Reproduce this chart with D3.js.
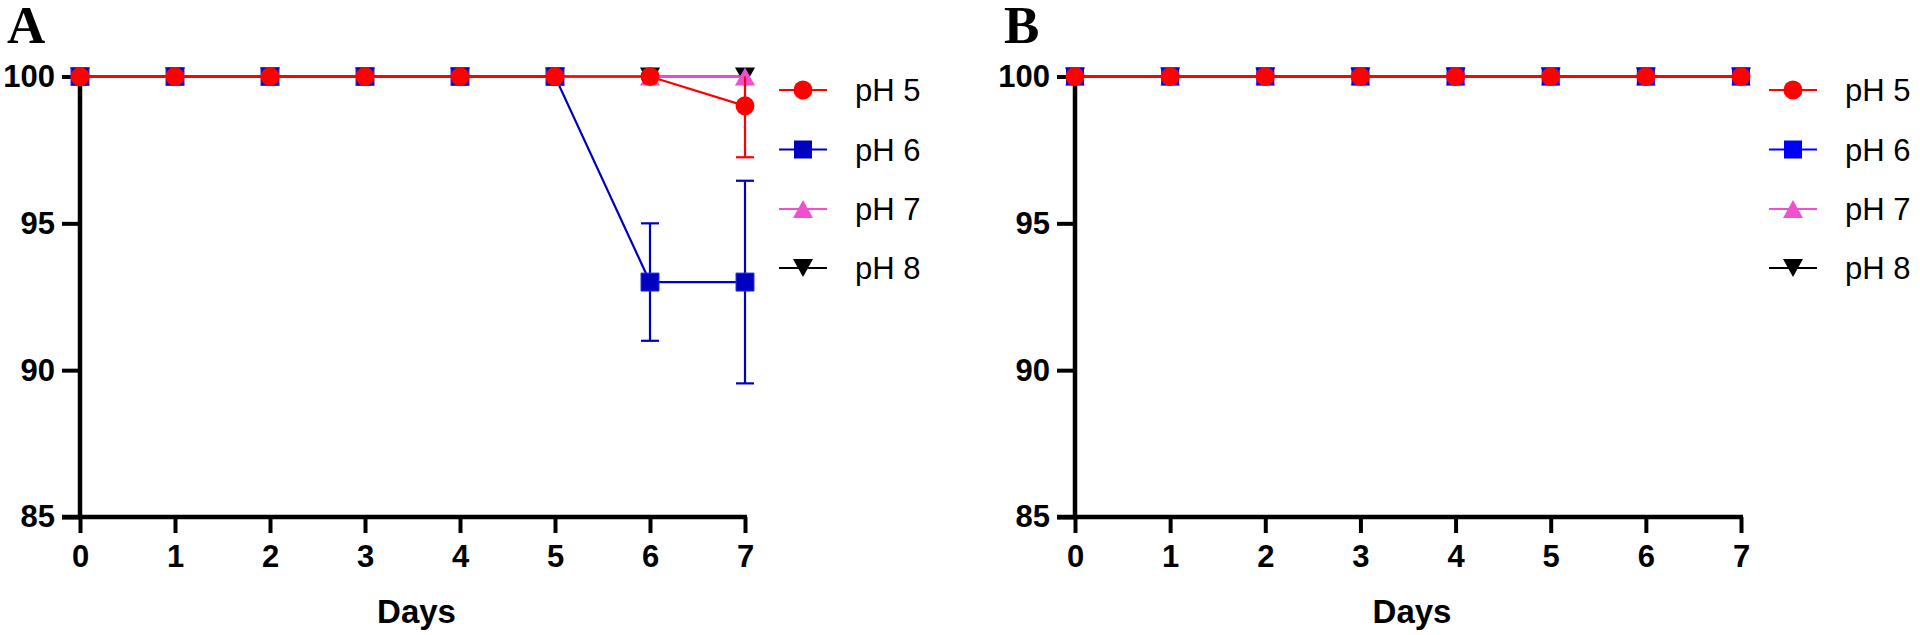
<!DOCTYPE html>
<html>
<head>
<meta charset="utf-8">
<script src="https://cdn.jsdelivr.net/npm/d3@7"></script>
<style>
  html, body { margin: 0; padding: 0; background: #fff; }
  svg { display: block; }
  text { font-family: "Liberation Sans", Arial, sans-serif; }
</style>
</head>
<body>
<svg id="chart" width="1920" height="635"></svg>
<script>
// ---- data ----
const days = [0, 1, 2, 3, 4, 5, 6, 7];
const seriesNames = ["pH 5", "pH 6", "pH 7", "pH 8"];
const yTicks = [85, 90, 95, 100];

// Panel A
const A_pH5 = [100, 100, 100, 100, 100, 100, 100, 99];
const A_pH5_err = [0, 0, 0, 0, 0, 0, 0, 1.75];
const A_pH6 = [100, 100, 100, 100, 100, 100, 93, 93];
const A_pH6_err = [0, 0, 0, 0, 0, 0, 2, 3.45];
const A_pH7 = [100, 100, 100, 100, 100, 100, 100, 100];
const A_pH7_err = [0, 0, 0, 0, 0, 0, 0, 0];
const A_pH8 = [100, 100, 100, 100, 100, 100, 100, 100];
const A_pH8_err = [0, 0, 0, 0, 0, 0, 0, 0];

// Panel B
const B_pH5 = [100, 100, 100, 100, 100, 100, 100, 100];
const B_pH6 = [100, 100, 100, 100, 100, 100, 100, 100];
const B_pH7 = [100, 100, 100, 100, 100, 100, 100, 100];
const B_pH8 = [100, 100, 100, 100, 100, 100, 100, 100];
const B_err = [0, 0, 0, 0, 0, 0, 0, 0];

const svg = d3.select("#chart");

// box-centred triangles (width 20, height 18)
const triBoxUp = { draw(ctx, size) { const w = 10, h = 9; ctx.moveTo(0, -h); ctx.lineTo(w, h); ctx.lineTo(-w, h); ctx.closePath(); } };
const triBoxDown = { draw(ctx, size) { const w = 10, h = 9; ctx.moveTo(0, h); ctx.lineTo(w, -h); ctx.lineTo(-w, -h); ctx.closePath(); } };

function drawPanel(cfg) {
  const g = svg.append("g");
  const x = d3.scaleLinear().domain([0, 7]).range([cfg.x0, cfg.x1]);
  const y = d3.scaleLinear().domain([85, 100]).range([517, 76.5]);

  // panel letter
  g.append("text")
    .attr("x", cfg.letterX).attr("y", 43)
    .style("font-family", "'Liberation Serif', 'Times New Roman', serif")
    .attr("font-weight", "bold").attr("font-size", 53)
    .text(cfg.letter);

  // axes
  const xAxis = g.append("g").attr("transform", `translate(0,517)`)
    .call(d3.axisBottom(x).tickValues(days).tickSize(16).tickPadding(12).tickFormat(d3.format("d")));
  const yAxis = g.append("g").attr("transform", `translate(${cfg.x0},0)`)
    .call(d3.axisLeft(y).tickValues(yTicks).tickSize(18).tickPadding(7).tickFormat(d3.format("d")));
  [xAxis, yAxis].forEach(a => {
    a.select(".domain").remove();
    a.selectAll(".tick line").attr("stroke", "#000").attr("stroke-width", 4);
    a.selectAll(".tick text").attr("fill", "#000").attr("font-weight", "bold")
      .attr("font-size", 31).style("font-family", "'Liberation Sans', Arial, sans-serif");
  });
  xAxis.selectAll(".tick text").attr("dy", "0.71em");
  // axis lines
  g.append("line").attr("x1", cfg.x0).attr("x2", cfg.x0).attr("y1", y(100)).attr("y2", 519)
    .attr("stroke", "#000").attr("stroke-width", 4.5);
  g.append("line").attr("x1", cfg.x0 - 18).attr("x2", cfg.x1 + 2).attr("y1", 517).attr("y2", 517)
    .attr("stroke", "#000").attr("stroke-width", 4.5);

  // axis title
  g.append("text").attr("x", (cfg.x0 + cfg.x1) / 2 + 4).attr("y", 623)
    .attr("text-anchor", "middle").attr("font-weight", "bold").attr("font-size", 33)
    .text("Days");

  const sym = {
    circle: d3.symbol().type(d3.symbolCircle).size(Math.PI * 9.5 * 9.5),
    square: d3.symbol().type(d3.symbolSquare).size(18 * 18),
    triUp: d3.symbol().type(triBoxUp),
    triDown: d3.symbol().type(triBoxDown)
  };

  const line = d3.line().x((d, i) => x(days[i])).y(d => y(d));

  // draw bottom series first (pH 8), top series last (pH 5)
  const order = cfg.series.slice().reverse();
  order.forEach(s => {
    const sg = g.append("g");
    sg.append("path").attr("d", line(s.values)).attr("fill", "none")
      .attr("stroke", s.color).attr("stroke-width", 2.2);
    // error bars, clipped to axis range
    s.values.forEach((v, i) => {
      const e = s.err[i];
      if (!e) return;
      const lo = Math.max(85, v - e), hi = Math.min(100, v + e);
      const cx = x(days[i]);
      sg.append("line").attr("x1", cx).attr("x2", cx).attr("y1", y(lo)).attr("y2", y(hi))
        .attr("stroke", s.color).attr("stroke-width", 2.2);
      if (v - e >= 85) sg.append("line").attr("x1", cx - 9).attr("x2", cx + 9)
        .attr("y1", y(lo)).attr("y2", y(lo)).attr("stroke", s.color).attr("stroke-width", 2.2);
      if (v + e <= 100) sg.append("line").attr("x1", cx - 9).attr("x2", cx + 9)
        .attr("y1", y(hi)).attr("y2", y(hi)).attr("stroke", s.color).attr("stroke-width", 2.2);
    });
    s.values.forEach((v, i) => {
      sg.append("path").attr("d", sym[s.shape]())
        .attr("transform", `translate(${x(days[i])},${y(v)})`)
        .attr("fill", s.fill).attr("stroke", s.outline || "none").attr("stroke-width", 1);
    });
  });

  // legend
  const rows = [90, 149.5, 209, 268];
  cfg.series.forEach((s, k) => {
    const ly = rows[k];
    g.append("line").attr("x1", cfg.legX).attr("x2", cfg.legX + 48).attr("y1", ly).attr("y2", ly)
      .attr("stroke", s.color).attr("stroke-width", 2.2);
    g.append("path").attr("d", sym[s.shape]())
      .attr("transform", `translate(${cfg.legX + 24},${ly})`)
      .attr("fill", s.fill);
    g.append("text").attr("x", cfg.legX + 76).attr("y", ly + 11)
      .attr("font-size", 31).attr("fill", "#000").text(seriesNames[k]);
  });
}

drawPanel({
  letter: "A", letterX: 7, x0: 80, x1: 745, legX: 779,
  series: [
    { values: A_pH5, err: A_pH5_err, color: "#ff0000", fill: "#ff0000", shape: "circle" },
    { values: A_pH6, err: A_pH6_err, color: "#0000c0", fill: "#0000c0", shape: "square", outline: "#3030e0" },
    { values: A_pH7, err: A_pH7_err, color: "#f050d0", fill: "#f050d0", shape: "triUp" },
    { values: A_pH8, err: A_pH8_err, color: "#000000", fill: "#000000", shape: "triDown" }
  ]
});

drawPanel({
  letter: "B", letterX: 1004, x0: 1075, x1: 1741, legX: 1769,
  series: [
    { values: B_pH5, err: B_err, color: "#ff0000", fill: "#ff0000", shape: "circle" },
    { values: B_pH6, err: B_err, color: "#0000ff", fill: "#0000ff", shape: "square" },
    { values: B_pH7, err: B_err, color: "#f050d0", fill: "#f050d0", shape: "triUp" },
    { values: B_pH8, err: B_err, color: "#000000", fill: "#000000", shape: "triDown" }
  ]
});
</script>
</body>
</html>
